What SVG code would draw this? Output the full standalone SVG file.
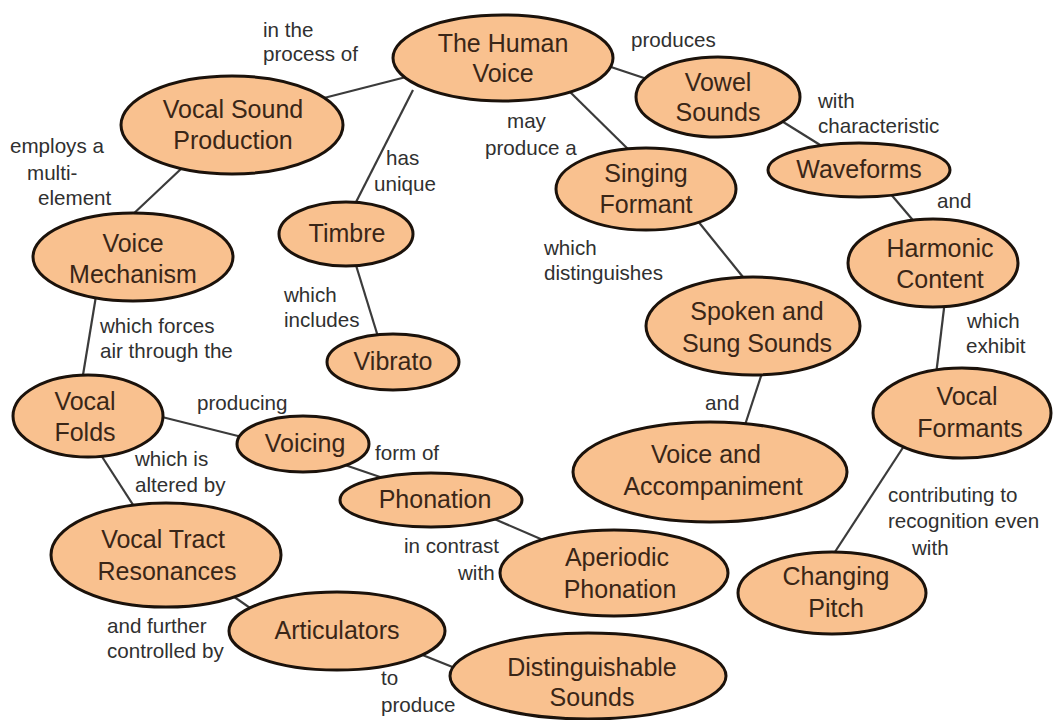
<svg xmlns="http://www.w3.org/2000/svg" width="1055" height="720" viewBox="0 0 1055 720">
<style>
.n ellipse{fill:#F9C18F;stroke:#1b120b;stroke-width:3}
.n text{font-family:"Liberation Sans",Arial,sans-serif;font-size:25px;fill:#3a2617;text-anchor:middle}
.lb text{font-family:"Liberation Sans",Arial,sans-serif;font-size:20.6px;fill:#303030}
#edges line{stroke:#3b3b3b;stroke-width:2.2}
</style>
<rect width="1055" height="720" fill="#ffffff"/>
<g id="edges">
<line x1="410" y1="76" x2="320" y2="99"/>
<line x1="413" y1="90" x2="353" y2="208"/>
<line x1="568" y1="90" x2="633" y2="154"/>
<line x1="605" y1="65" x2="650" y2="80"/>
<line x1="780" y1="120" x2="825" y2="148"/>
<line x1="889" y1="192" x2="917" y2="225"/>
<line x1="945" y1="300" x2="936" y2="375"/>
<line x1="904" y1="446" x2="831" y2="558"/>
<line x1="697" y1="220" x2="747" y2="282"/>
<line x1="763" y1="370" x2="744" y2="428"/>
<line x1="182" y1="168" x2="130" y2="217"/>
<line x1="96" y1="296" x2="82" y2="381"/>
<line x1="355" y1="262" x2="379" y2="340"/>
<line x1="158" y1="416" x2="246" y2="438"/>
<line x1="99" y1="452" x2="137" y2="511"/>
<line x1="342" y1="464" x2="383" y2="478"/>
<line x1="492" y1="518" x2="550" y2="543"/>
<line x1="230" y1="594" x2="256" y2="612"/>
<line x1="415" y1="652" x2="460" y2="670"/>
</g>
<g id="node-human-voice" class="n"><ellipse cx="503" cy="58" rx="110" ry="43"/><text x="503" y="52">The Human</text><text x="503" y="82">Voice</text></g>
<g id="node-vocal-sound-production" class="n"><ellipse cx="232" cy="125" rx="111" ry="49"/><text x="233" y="118">Vocal Sound</text><text x="233" y="149">Production</text></g>
<g id="node-voice-mechanism" class="n"><ellipse cx="133" cy="257" rx="100" ry="44"/><text x="133" y="252">Voice</text><text x="133" y="283">Mechanism</text></g>
<g id="node-timbre" class="n"><ellipse cx="346" cy="234" rx="67" ry="32"/><text x="347" y="242">Timbre</text></g>
<g id="node-vibrato" class="n"><ellipse cx="393" cy="362" rx="66" ry="28"/><text x="393" y="370">Vibrato</text></g>
<g id="node-vowel-sounds" class="n"><ellipse cx="718" cy="97" rx="82" ry="40"/><text x="718" y="91">Vowel</text><text x="718" y="121">Sounds</text></g>
<g id="node-waveforms" class="n"><ellipse cx="859" cy="170" rx="91" ry="27"/><text x="859" y="178">Waveforms</text></g>
<g id="node-singing-formant" class="n"><ellipse cx="646" cy="189" rx="90" ry="41"/><text x="646" y="182">Singing</text><text x="646" y="213">Formant</text></g>
<g id="node-harmonic-content" class="n"><ellipse cx="933" cy="263" rx="85" ry="44"/><text x="940" y="257">Harmonic</text><text x="940" y="288">Content</text></g>
<g id="node-spoken-sung" class="n"><ellipse cx="753" cy="326" rx="107" ry="49"/><text x="757" y="320">Spoken and</text><text x="757" y="352">Sung Sounds</text></g>
<g id="node-vocal-formants" class="n"><ellipse cx="962" cy="413" rx="89" ry="45"/><text x="967" y="405">Vocal</text><text x="970" y="437">Formants</text></g>
<g id="node-voice-accompaniment" class="n"><ellipse cx="710" cy="472" rx="137" ry="50"/><text x="706" y="463">Voice and</text><text x="713" y="495">Accompaniment</text></g>
<g id="node-changing-pitch" class="n"><ellipse cx="832" cy="593" rx="94" ry="41"/><text x="836" y="585">Changing</text><text x="836" y="617">Pitch</text></g>
<g id="node-aperiodic-phonation" class="n"><ellipse cx="614" cy="573" rx="114" ry="43"/><text x="617" y="566">Aperiodic</text><text x="620" y="598">Phonation</text></g>
<g id="node-distinguishable-sounds" class="n"><ellipse cx="588" cy="676" rx="138" ry="43"/><text x="592" y="676">Distinguishable</text><text x="592" y="706">Sounds</text></g>
<g id="node-vocal-folds" class="n"><ellipse cx="88" cy="416" rx="75" ry="41"/><text x="85" y="410">Vocal</text><text x="85" y="441">Folds</text></g>
<g id="node-voicing" class="n"><ellipse cx="303" cy="444" rx="66" ry="28"/><text x="305" y="452">Voicing</text></g>
<g id="node-phonation" class="n"><ellipse cx="431" cy="500" rx="91" ry="27"/><text x="435" y="508">Phonation</text></g>
<g id="node-vocal-tract-resonances" class="n"><ellipse cx="166" cy="555" rx="115" ry="52"/><text x="163" y="548">Vocal Tract</text><text x="167" y="580">Resonances</text></g>
<g id="node-articulators" class="n"><ellipse cx="337" cy="631" rx="108" ry="39"/><text x="337" y="639">Articulators</text></g>
<g id="labels" class="lb">
<text x="263" y="37">in the</text><text x="263" y="61">process of</text>
<text x="10" y="153">employs a</text><text x="27" y="180">multi-</text><text x="38" y="205">element</text>
<text x="386" y="165">has</text><text x="374" y="191">unique</text>
<text x="284" y="302">which</text><text x="284" y="327">includes</text>
<text x="100" y="333">which forces</text><text x="100" y="358">air through the</text>
<text x="507" y="128">may</text><text x="485" y="155">produce a</text>
<text x="631" y="47">produces</text>
<text x="818" y="108">with</text><text x="818" y="133">characteristic</text>
<text x="937" y="208">and</text>
<text x="544" y="255">which</text><text x="544" y="280">distinguishes</text>
<text x="967" y="328">which</text><text x="966" y="353">exhibit</text>
<text x="705" y="410">and</text>
<text x="888" y="502">contributing to</text><text x="888" y="528">recognition even</text><text x="912" y="555">with</text>
<text x="197" y="410">producing</text>
<text x="375" y="460">form of</text>
<text x="135" y="466">which is</text><text x="135" y="492">altered by</text>
<text x="404" y="553">in contrast</text><text x="458" y="580">with</text>
<text x="107" y="633">and further</text><text x="107" y="658">controlled by</text>
<text x="381" y="685">to</text><text x="381" y="712">produce</text>
</g>
</svg>
